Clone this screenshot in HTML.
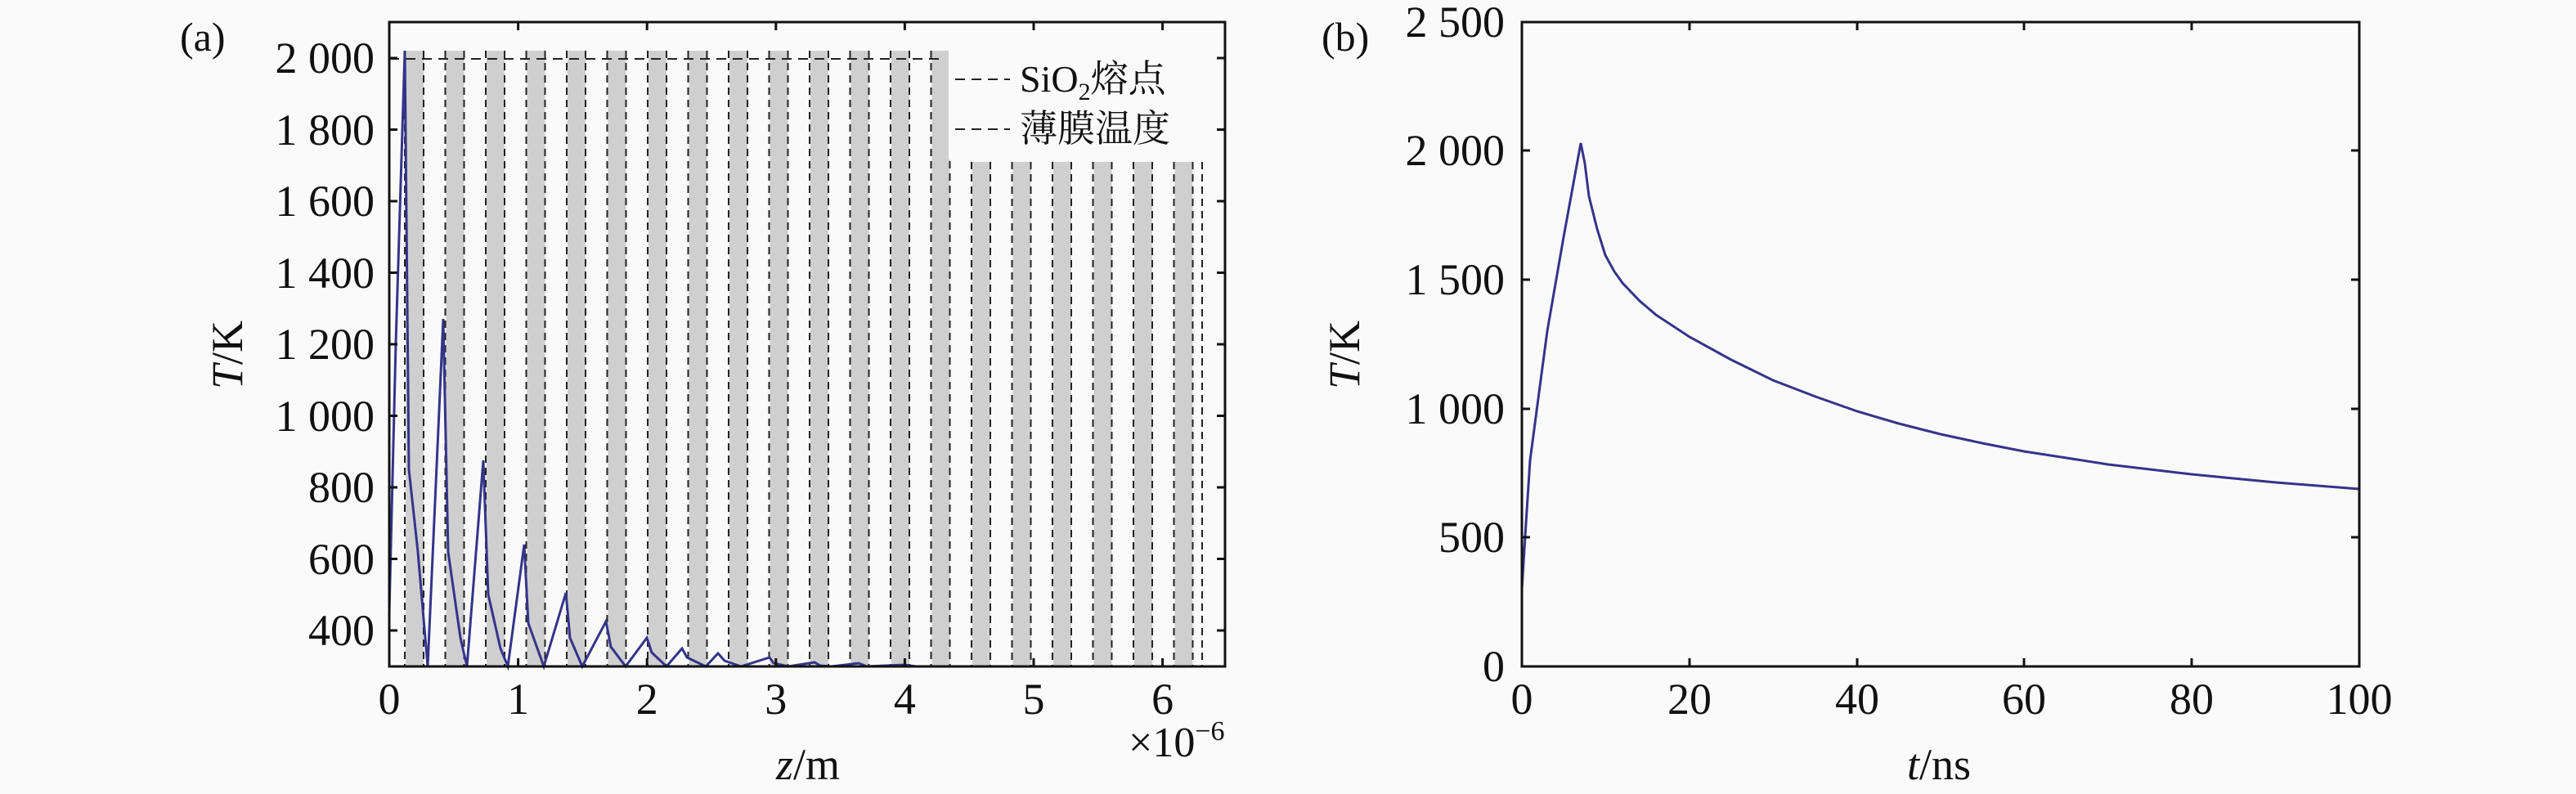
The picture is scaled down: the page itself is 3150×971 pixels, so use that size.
<!DOCTYPE html>
<html><head><meta charset="utf-8"><style>
html,body{margin:0;padding:0;background:#fafafa;}
svg{display:block;}
svg text{font-family:"Liberation Serif","Times New Roman","Noto Serif CJK SC",serif;fill:#111;}
</style></head><body>
<svg width="3150" height="971" viewBox="0 0 3150 971" xmlns="http://www.w3.org/2000/svg" font-family="'Liberation Serif','Noto Serif CJK SC',serif">
<rect width="3150" height="971" fill="#fafafa"/>
<defs>
<g id="bt"><rect x="0" y="62" width="22" height="753" fill="#cfcfcf"/><line x1="-1" y1="62" x2="-1" y2="815" stroke="#222" stroke-width="2" stroke-dasharray="9,6"/><line x1="22" y1="62" x2="22" y2="815" stroke="#222" stroke-width="2" stroke-dasharray="9,6"/></g>
<g id="bs"><rect x="0" y="198" width="22" height="617" fill="#cfcfcf"/><line x1="-1" y1="198" x2="-1" y2="815" stroke="#222" stroke-width="2" stroke-dasharray="9,6"/><line x1="22" y1="198" x2="22" y2="815" stroke="#222" stroke-width="2" stroke-dasharray="9,6"/></g>
</defs>
<use href="#bt" x="496"/><use href="#bt" x="545.5"/><use href="#bt" x="595"/><use href="#bt" x="644.5"/><use href="#bt" x="694"/><use href="#bt" x="743.5"/><use href="#bt" x="793"/><use href="#bt" x="842.5"/><use href="#bt" x="892"/><use href="#bt" x="941.5"/><use href="#bt" x="991"/><use href="#bt" x="1040.5"/><use href="#bt" x="1090"/><use href="#bt" x="1139.5"/>
<use href="#bs" x="1189"/><use href="#bs" x="1238.5"/><use href="#bs" x="1288"/><use href="#bs" x="1337.5"/><use href="#bs" x="1387"/><use href="#bs" x="1436.5"/>
<line x1="1470" y1="198" x2="1470" y2="815" stroke="#222" stroke-width="2" stroke-dasharray="9,6"/>
<line x1="476" y1="72" x2="1150" y2="72" stroke="#222" stroke-width="2" stroke-dasharray="12,8"/>
<polyline fill="none" stroke="#34348a" stroke-width="3" points="
476,749 484,420 495,62 500,574 511,675 523,815 542,390 548,675 563,780 571,815 591,563 597,727 612,793 621,815 641,666 646,762 665,815 692,725 697,780 712,815 741,760 747,791 765,815 791,780 797,798 815,815 834,793 840,804 863,815 878,799 886,808 906,815 941,804 946,811 964,815 996,810 1003,814 1017,815 1050,811 1060,815 1106,813 1120,815 1468,815"/>
<rect x="1160" y="35" width="330" height="160" fill="#fafafa"/>
<line x1="1168" y1="97" x2="1235" y2="97" stroke="#222" stroke-width="2" stroke-dasharray="12,8"/>
<line x1="1168" y1="158" x2="1235" y2="158" stroke="#222" stroke-width="2" stroke-dasharray="12,8"/>
<text x="1247" y="112" font-size="46">SiO<tspan font-size="30" dy="10">2</tspan><tspan dy="-10">熔点</tspan></text>
<text x="1247" y="173" font-size="46">薄膜温度</text>
<rect x="476" y="27" width="1022" height="788" fill="none" stroke="#111" stroke-width="3"/>
<g stroke="#111" stroke-width="3">
<line x1="476" y1="71" x2="486" y2="71"/><line x1="476" y1="158.5" x2="486" y2="158.5"/><line x1="476" y1="246" x2="486" y2="246"/><line x1="476" y1="333.5" x2="486" y2="333.5"/><line x1="476" y1="421" x2="486" y2="421"/><line x1="476" y1="508.5" x2="486" y2="508.5"/><line x1="476" y1="596" x2="486" y2="596"/><line x1="476" y1="683.5" x2="486" y2="683.5"/><line x1="476" y1="771" x2="486" y2="771"/>
<line x1="1488" y1="71" x2="1498" y2="71"/><line x1="1488" y1="158.5" x2="1498" y2="158.5"/><line x1="1488" y1="246" x2="1498" y2="246"/><line x1="1488" y1="333.5" x2="1498" y2="333.5"/><line x1="1488" y1="421" x2="1498" y2="421"/><line x1="1488" y1="508.5" x2="1498" y2="508.5"/><line x1="1488" y1="596" x2="1498" y2="596"/><line x1="1488" y1="683.5" x2="1498" y2="683.5"/><line x1="1488" y1="771" x2="1498" y2="771"/>
<line x1="633.6" y1="815" x2="633.6" y2="805"/><line x1="791.2" y1="815" x2="791.2" y2="805"/><line x1="948.8" y1="815" x2="948.8" y2="805"/><line x1="1106.4" y1="815" x2="1106.4" y2="805"/><line x1="1264" y1="815" x2="1264" y2="805"/><line x1="1421.6" y1="815" x2="1421.6" y2="805"/>
<line x1="633.6" y1="27" x2="633.6" y2="37"/><line x1="791.2" y1="27" x2="791.2" y2="37"/><line x1="948.8" y1="27" x2="948.8" y2="37"/><line x1="1106.4" y1="27" x2="1106.4" y2="37"/><line x1="1264" y1="27" x2="1264" y2="37"/><line x1="1421.6" y1="27" x2="1421.6" y2="37"/>
</g>
<g font-size="54" text-anchor="end">
<text x="458" y="89">2 000</text><text x="458" y="177">1 800</text><text x="458" y="264">1 600</text><text x="458" y="352">1 400</text><text x="458" y="439">1 200</text><text x="458" y="527">1 000</text><text x="458" y="614">800</text><text x="458" y="702">600</text><text x="458" y="789">400</text>
</g>
<g font-size="54" text-anchor="middle">
<text x="476" y="873">0</text><text x="633.6" y="873">1</text><text x="791.2" y="873">2</text><text x="948.8" y="873">3</text><text x="1106.4" y="873">4</text><text x="1264" y="873">5</text><text x="1421.6" y="873">6</text>
</g>
<text x="1380" y="925" font-size="52">×10<tspan font-size="34" dy="-20">−6</tspan></text>
<text x="988" y="953" font-size="54" text-anchor="middle"><tspan font-style="italic">z</tspan>/m</text>
<text transform="translate(296,434) rotate(-90)" font-size="54" text-anchor="middle"><tspan font-style="italic">T</tspan>/K</text>
<text x="220" y="62" font-size="50">(a)</text>

<!-- Panel B -->
<polyline fill="none" stroke="#34348a" stroke-width="3" points="
1861,720 1866,640 1871,563 1882,480 1892,405 1912,290 1933,175 1938,200 1943,240 1953,280 1963,312 1974,332 1984,346 2005,368 2025,385 2066,412 2117,440 2168,465 2220,485 2271,503 2322,518 2373,531 2424,542 2475,552 2527,560 2578,568 2629,574 2680,580 2731,585 2783,590 2834,594 2885,598"/>
<rect x="1861" y="27" width="1024" height="788" fill="none" stroke="#111" stroke-width="3"/>
<g stroke="#111" stroke-width="3">
<line x1="1861" y1="184" x2="1871" y2="184"/><line x1="1861" y1="342" x2="1871" y2="342"/><line x1="1861" y1="500" x2="1871" y2="500"/><line x1="1861" y1="657" x2="1871" y2="657"/>
<line x1="2875" y1="184" x2="2885" y2="184"/><line x1="2875" y1="342" x2="2885" y2="342"/><line x1="2875" y1="500" x2="2885" y2="500"/><line x1="2875" y1="657" x2="2885" y2="657"/>
<line x1="2066" y1="815" x2="2066" y2="805"/><line x1="2271" y1="815" x2="2271" y2="805"/><line x1="2475" y1="815" x2="2475" y2="805"/><line x1="2680" y1="815" x2="2680" y2="805"/>
<line x1="2066" y1="27" x2="2066" y2="37"/><line x1="2271" y1="27" x2="2271" y2="37"/><line x1="2475" y1="27" x2="2475" y2="37"/><line x1="2680" y1="27" x2="2680" y2="37"/>
</g>
<g font-size="54" text-anchor="end">
<text x="1840" y="45">2 500</text><text x="1840" y="202">2 000</text><text x="1840" y="360">1 500</text><text x="1840" y="518">1 000</text><text x="1840" y="675">500</text><text x="1840" y="833">0</text>
</g>
<g font-size="54" text-anchor="middle">
<text x="1861" y="873">0</text><text x="2066" y="873">20</text><text x="2271" y="873">40</text><text x="2475" y="873">60</text><text x="2680" y="873">80</text><text x="2885" y="873">100</text>
</g>
<text x="2371" y="953" font-size="54" text-anchor="middle"><tspan font-style="italic">t</tspan>/ns</text>
<text transform="translate(1662,434) rotate(-90)" font-size="54" text-anchor="middle"><tspan font-style="italic">T</tspan>/K</text>
<text x="1616" y="62" font-size="50">(b)</text>
</svg>
</body></html>
